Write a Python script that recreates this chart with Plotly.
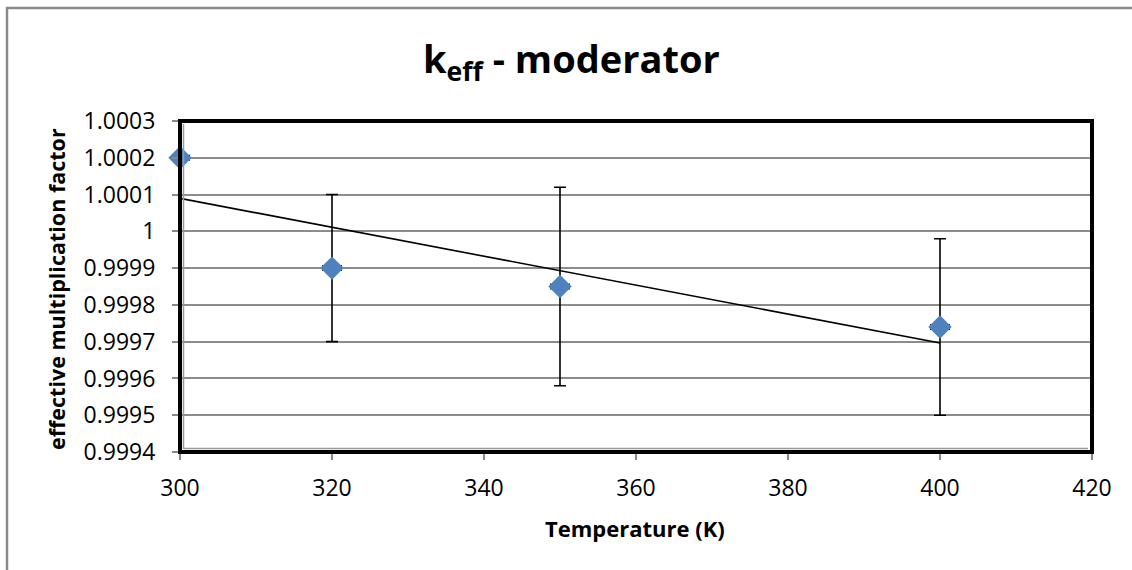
import numpy as np
import plotly.graph_objects as go

# Moderator temperature study: k_eff with statistical uncertainty
temperature_k = [300, 320, 350, 400]
k_eff = [1.0002, 0.9999, 0.99985, 0.99974]
k_eff_err = [0.0, 0.0002, 0.00027, 0.00024]
temp_err = [1.2, 1.2, 1.2, 1.2]

y_tick_vals = [0.9994, 0.9995, 0.9996, 0.9997, 0.9998, 0.9999, 1.0, 1.0001, 1.0002, 1.0003]
y_tick_text = ["0.9994", "0.9995", "0.9996", "0.9997", "0.9998", "0.9999", "1", "1.0001", "1.0002", "1.0003"]
x_tick_vals = [300, 320, 340, 360, 380, 400, 420]

# Linear trendline over the measured range
slope, intercept = np.polyfit(temperature_k, k_eff, 1)
trend_x = [min(temperature_k), max(temperature_k)]
trend_y = [slope * t + intercept for t in trend_x]

FONT = "Open Sans"
W, H = 1132, 570
L, R, T, B = 180, 40, 121, 118
pw, ph = W - L - R, H - T - B


def px_to_paper_x(px):
    return (px - L) / pw


def px_to_paper_y(py):
    return (H - B - py) / ph


fig = go.Figure()

fig.add_trace(go.Scatter(
    x=trend_x, y=trend_y, mode="lines",
    line=dict(color="black", width=1.6),
    hoverinfo="skip", showlegend=False,
))

fig.add_trace(go.Scatter(
    x=temperature_k, y=k_eff, mode="markers",
    marker=dict(symbol="diamond", size=18, color="#4f81bd"),
    error_y=dict(type="data", array=k_eff_err, visible=True,
                 color="black", thickness=1.6, width=6),
    error_x=dict(type="data", array=temp_err, visible=True,
                 color="black", thickness=1.6, width=3),
    cliponaxis=False, showlegend=False,
))

shapes = [
    # outer chart border
    dict(type="rect", xref="paper", yref="paper",
         x0=px_to_paper_x(7), x1=px_to_paper_x(1145),
         y0=px_to_paper_y(585), y1=px_to_paper_y(8),
         line=dict(color="#8a8a8a", width=2.5), layer="below"),
    # plot frame
    dict(type="rect", xref="paper", yref="paper", x0=0, x1=1, y0=0, y1=1,
         line=dict(color="black", width=4), layer="above"),
    dict(type="line", xref="paper", yref="paper", x0=px_to_paper_x(183.5), x1=px_to_paper_x(183.5),
         y0=px_to_paper_y(449), y1=px_to_paper_y(124),
         line=dict(color="#9a9a9a", width=1.5), layer="above"),
    dict(type="line", xref="paper", yref="paper", x0=px_to_paper_x(184), x1=px_to_paper_x(1088),
         y0=px_to_paper_y(448.5), y1=px_to_paper_y(448.5),
         line=dict(color="#9a9a9a", width=1.5), layer="above"),
]

fig.update_layout(
    width=W, height=H,
    margin=dict(l=L, r=R, t=T, b=B),
    paper_bgcolor="white", plot_bgcolor="white",
    font=dict(family=FONT, color="black"),
    shapes=shapes,
    annotations=[
        dict(text="<b>k<sub>eff</sub> - moderator</b>", xref="paper", yref="paper",
             x=px_to_paper_x(571), y=px_to_paper_y(61), xanchor="center", yanchor="middle",
             showarrow=False, font=dict(size=38, family=FONT)),
        dict(text="<b>effective multiplication factor</b>", xref="paper", yref="paper",
             x=px_to_paper_x(56), y=px_to_paper_y(289), xanchor="center", yanchor="middle",
             textangle=-90, showarrow=False, font=dict(size=21.5, family=FONT)),
        dict(text="<b>Temperature (K)</b>", xref="paper", yref="paper",
             x=px_to_paper_x(635), y=px_to_paper_y(528), xanchor="center", yanchor="middle",
             showarrow=False, font=dict(size=22, family=FONT)),
    ],
    xaxis=dict(
        range=[300, 420], tickvals=x_tick_vals, showgrid=False, zeroline=False,
        ticks="outside", ticklen=7, tickcolor="#8a8a8a", tickwidth=1.5,
        tickfont=dict(size=23, family=FONT), showline=False,
        ticklabelstandoff=8,
    ),
    yaxis=dict(
        range=[0.9994, 1.0003], tickvals=y_tick_vals, ticktext=y_tick_text,
        showgrid=True, gridcolor="#8c8c8c", gridwidth=1.5, zeroline=False,
        ticks="outside", ticklen=7, tickcolor="#8a8a8a", tickwidth=1.5,
        tickfont=dict(size=23, family=FONT), showline=False,
        ticklabelstandoff=12,
    ),
)

fig.write_html("out.html")
